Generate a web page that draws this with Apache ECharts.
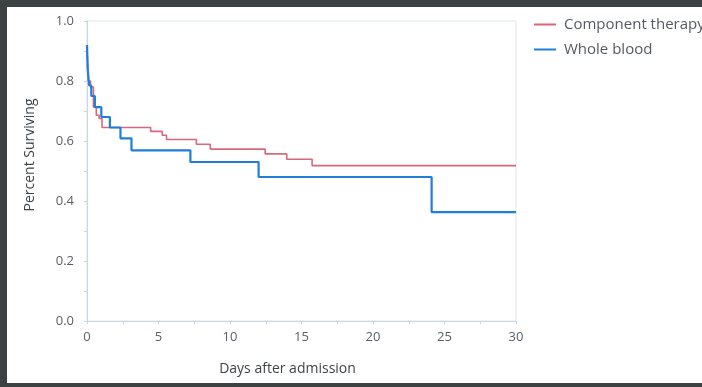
<!DOCTYPE html>
<html>
<head>
<meta charset="utf-8">
<script src="https://cdn.jsdelivr.net/npm/echarts@6/dist/echarts.min.js"></script>
<style>
html,body{margin:0;padding:0;background:#3c4141;width:702px;height:387px;overflow:hidden;}
#chart{position:absolute;left:7px;top:7px;width:695px;height:376px;background:#ffffff;}
</style>
</head>
<body>
<div id="chart"></div>
<script>
// Kaplan-Meier survival steps
const componentDays   = [0, 0.05, 0.1, 0.25, 0.45, 0.65, 0.85, 1.05, 4.45, 5.26, 5.56, 7.65, 8.62, 12.46, 13.97, 15.74, 30];
const componentValues = [0.92, 0.84, 0.80, 0.78, 0.713, 0.686, 0.675, 0.645, 0.632, 0.619, 0.605, 0.589, 0.573, 0.557, 0.539, 0.518, 0.518];
const wholeDays   = [0, 0.05, 0.15, 0.3, 0.55, 1.0, 1.6, 2.34, 3.11, 7.23, 12.0, 24.1, 30];
const wholeValues = [0.92, 0.84, 0.785, 0.75, 0.713, 0.68, 0.645, 0.609, 0.569, 0.53, 0.48, 0.363, 0.363];
const seriesNames = ['Component therapy', 'Whole blood'];
const xTicks = [0, 5, 10, 15, 20, 25, 30];
const yTicks = [0.0, 0.2, 0.4, 0.6, 0.8, 1.0];

const chart = echarts.init(document.getElementById('chart'));
const zip = (xs, ys) => xs.map((x, i) => [x, ys[i]]);
const font = '"Open Sans", "Noto Sans", sans-serif';
const axisColor = '#c9d6e3';

chart.setOption({
  animation: false,
  grid: { left: 80, right: 186, top: 14, bottom: 62, show: true, borderColor: '#dde6ee', borderWidth: 1 },
  legend: {
    orient: 'vertical', left: 522, top: 4.5, itemWidth: 22, itemHeight: 2, itemGap: 9,
    icon: 'rect',
    textStyle: { fontFamily: font, fontSize: 15, lineHeight: 16, color: '#555a60', padding: [0, 0, 0, 3] },
    data: seriesNames
  },
  xAxis: {
    type: 'value', min: xTicks[0], max: xTicks[xTicks.length - 1], interval: 5,
    name: 'Days after admission', nameLocation: 'middle', nameGap: 41,
    nameTextStyle: { fontFamily: font, fontSize: 14, color: '#3f4448', padding: [0, 28, 0, 0] },
    axisLine: { lineStyle: { color: axisColor } },
    axisTick: { show: true, length: 3, inside: false, lineStyle: { color: axisColor } },
    minorTick: { show: true, splitNumber: 2, length: 3, lineStyle: { color: axisColor } },
    splitLine: { show: false },
    axisLabel: { fontFamily: font, fontSize: 13, color: '#5a5f66', margin: 10,
      formatter: v => xTicks.includes(v) ? String(v) : '' }
  },
  yAxis: {
    type: 'value', min: 0, max: 1, interval: 0.2,
    name: 'Percent Surviving', nameLocation: 'middle', nameGap: 50,
    nameTextStyle: { fontFamily: font, fontSize: 14, color: '#3f4448', padding: [0, 0, 0, 32] },
    axisLine: { show: true, lineStyle: { color: axisColor } },
    axisTick: { show: true, length: 3, lineStyle: { color: axisColor } },
    minorTick: { show: true, splitNumber: 2, length: 3, lineStyle: { color: axisColor } },
    splitLine: { show: false },
    axisLabel: { fontFamily: font, fontSize: 13, color: '#5a5f66', margin: 13,
      formatter: v => { const t = yTicks.find(y => Math.abs(y - v) < 1e-6); return t === undefined ? '' : t.toFixed(1); } }
  },
  series: [
    { name: seriesNames[0], type: 'line', step: 'end', symbol: 'none',
      data: zip(componentDays, componentValues),
      lineStyle: { color: '#d9677c', width: 1.6 }, itemStyle: { color: '#d9677c' } },
    { name: seriesNames[1], type: 'line', step: 'end', symbol: 'none',
      data: zip(wholeDays, wholeValues),
      lineStyle: { color: '#1f7fd6', width: 2.2 }, itemStyle: { color: '#1f7fd6' } }
  ]
});
</script>
</body>
</html>
